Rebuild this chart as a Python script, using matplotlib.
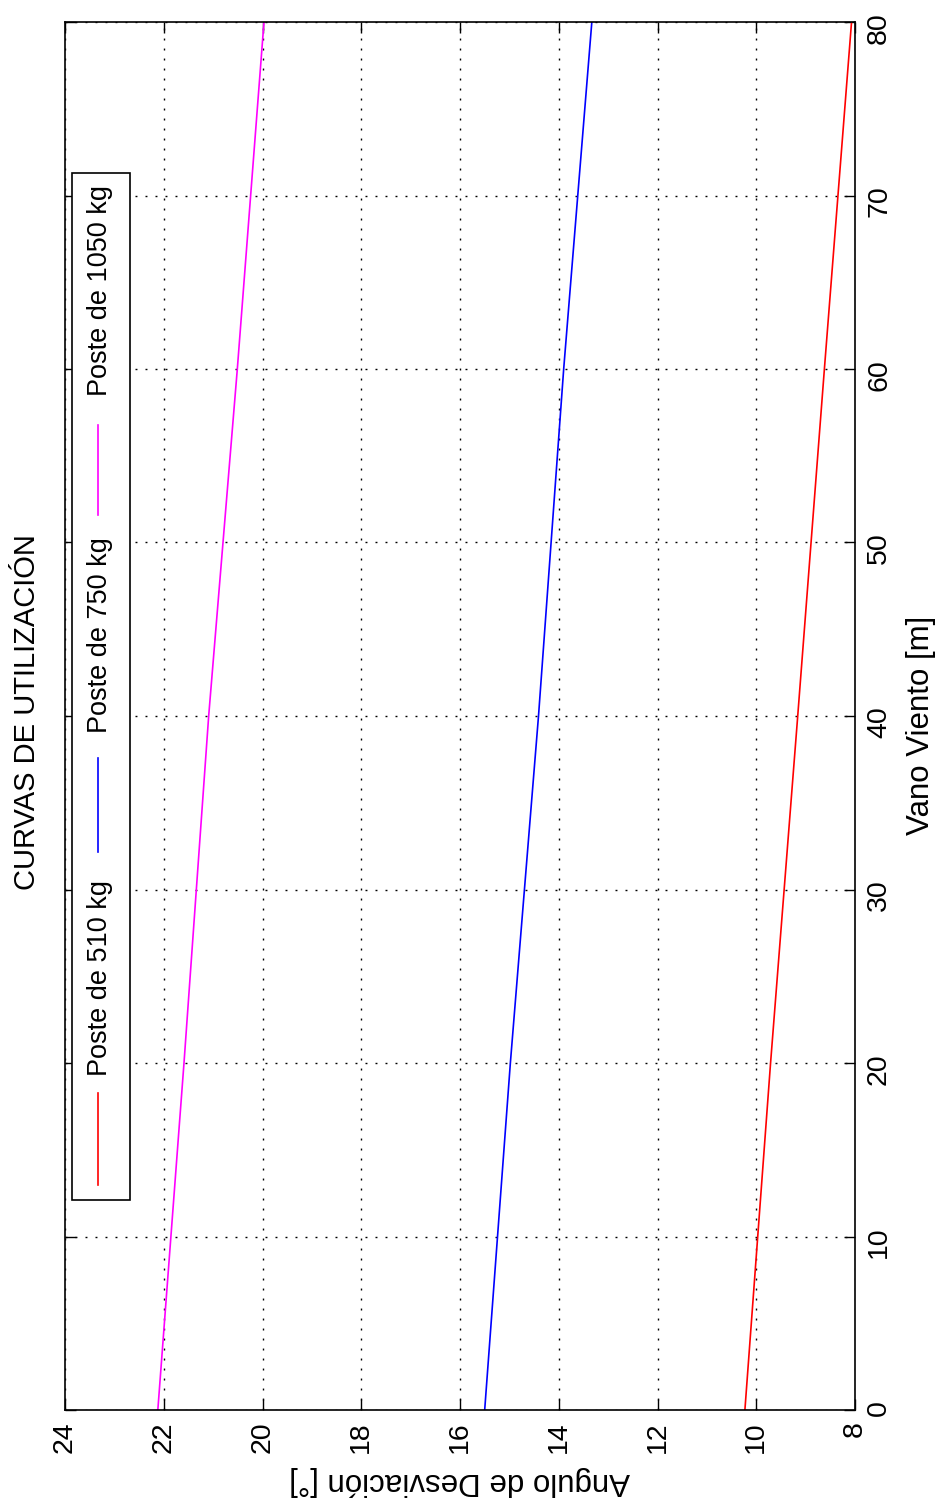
import matplotlib

matplotlib.use("Agg")
import matplotlib.pyplot as plt
from matplotlib.lines import Line2D
from matplotlib.patches import Rectangle

# Vano Viento [m] vs Angulo de Desviacion [deg]
vano = [0, 20, 40, 60, 80]
angle_510 = [10.23, 9.71, 9.16, 8.62, 8.07]
angle_750 = [15.50, 14.98, 14.41, 13.90, 13.33]
angle_1050 = [22.12, 21.59, 21.09, 20.51, 19.97]

series = [
    ("Poste de 510 kg", angle_510, "#ff0000"),
    ("Poste de 750 kg", angle_750, "#0000ff"),
    ("Poste de 1050 kg", angle_1050, "#ff00ff"),
]
angle_ticks = [24, 22, 20, 18, 16, 14, 12, 10, 8]
vano_ticks = [0, 10, 20, 30, 40, 50, 60, 70, 80]

W, H = 947, 1505
TICK_FONT = 20.5
LABEL_FONT = 22.5
TITLE_FONT = 21
LEGEND_FONT = 19.5

plt.rcParams["font.family"] = ["Liberation Sans", "DejaVu Sans"]


def px(x, y):
    """pixel position (top-left origin) -> figure fraction"""
    return x / W, 1 - y / H


fig = plt.figure(figsize=(W / 100, H / 100), dpi=100)
left, top = px(65, 22)
right, bottom = px(855, 1410)
ax = fig.add_axes([left, bottom, right - left, top - bottom])

# the whole chart is turned a quarter turn: angle runs right-to-left, span runs upward
lines = []
for label, values, color in series:
    (ln,) = ax.plot(values, vano, color=color, linewidth=1.2, label=label)
    lines.append(ln)

ax.set_xlim(24, 8)
ax.set_ylim(0, 80)
ax.set_xticks(angle_ticks)
ax.set_yticks(vano_ticks)
ax.grid(True, color="black", linestyle=(0, (1.4, 5.8)), linewidth=1.0)
ax.tick_params(direction="in", length=8, width=1.0, top=True, bottom=True,
               left=True, right=True, labelleft=False, labelright=True,
               labelsize=TICK_FONT, labelrotation=90, pad=8)
for spine in ax.spines.values():
    spine.set_linewidth(1.2)

fig.text(*px(460, 1481), "Angulo de Desviación [°]", rotation=180,
         ha="center", va="center", fontsize=LABEL_FONT)
fig.text(*px(921, 725), "Vano Viento [m]", rotation=90,
         ha="center", va="center", fontsize=LABEL_FONT)
fig.text(*px(27, 712), "CURVAS DE UTILIZACIÓN", rotation=90,
         ha="center", va="center", fontsize=TITLE_FONT)

# legend box drawn by hand, since the entries are turned too
bx0, by0 = px(72, 1200)
bx1, by1 = px(130, 173)
fig.add_artist(Rectangle((bx0, by0), bx1 - bx0, by1 - by0, transform=fig.transFigure,
                         facecolor="white", edgecolor="black", linewidth=1.2, zorder=5))
entries = [(1185, 1093, 978), (852, 758, 635), (515, 425, 291)]
for ln, (y0, y1, ytxt) in zip(lines, entries):
    lx, ly0 = px(98, y0)
    _, ly1 = px(98, y1)
    fig.add_artist(Line2D([lx, lx], [ly0, ly1], transform=fig.transFigure,
                          color=ln.get_color(), linewidth=1.2, zorder=6))
    fig.text(*px(100, ytxt), ln.get_label(), rotation=90, ha="center", va="center",
             fontsize=LEGEND_FONT, zorder=6)

fig.savefig("out.png", dpi=100)
